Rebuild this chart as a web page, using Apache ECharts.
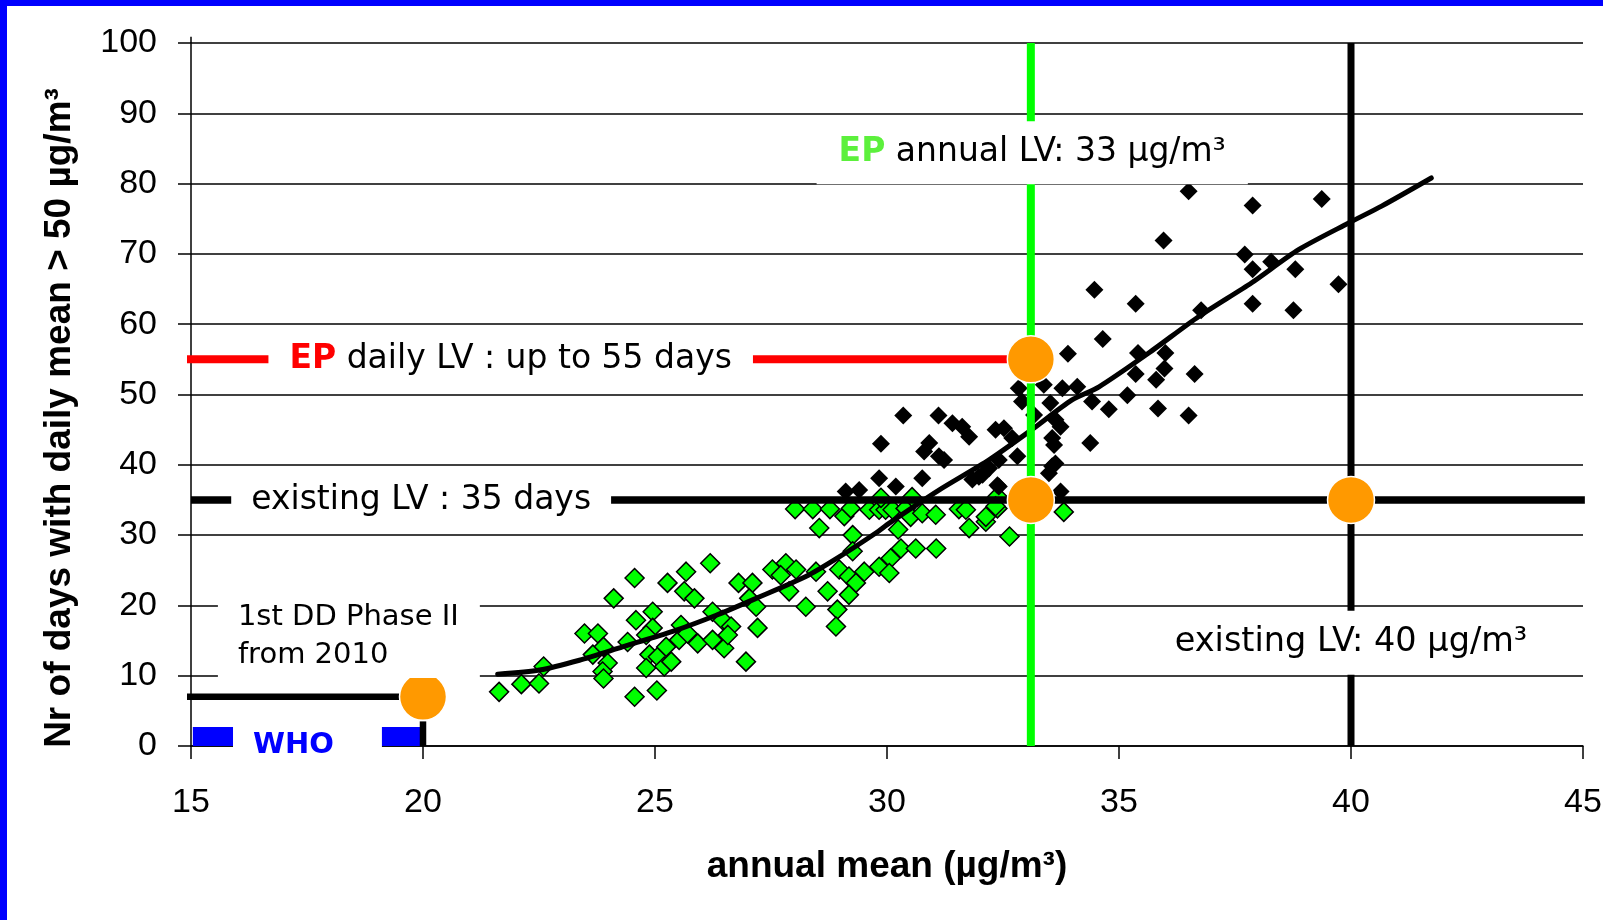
<!DOCTYPE html>
<html>
<head>
<meta charset="utf-8">
<script src="https://cdn.jsdelivr.net/npm/echarts@6/dist/echarts.min.js"></script>
<style>
  html, body { margin: 0; padding: 0; background: #fff; }
  #chart { width: 1603px; height: 920px; }
</style>
</head>
<body>
<div id="chart"></div>
<script>
// ---------- data ----------
const xMin = 15, xMax = 45, xStep = 5;
const yMin = 0, yMax = 100, yStep = 10;

const greenX = [21.64,22.12,22.50,22.60,23.48,23.77,23.89,23.66,23.98,23.87,23.89,24.11,24.56,24.41,24.59,24.95,24.95,24.81,24.56,25.04,
  24.88,24.81,25.06,25.20,25.35,25.24,25.27,25.67,25.63,25.85,26.19,25.56,25.52,25.70,25.92,26.24,26.24,26.46,26.49,26.64,
  26.57,26.80,26.96,27.10,27.03,27.18,27.21,27.53,27.82,28.04,28.47,27.89,28.25,28.72,28.97,29.18,29.33,29.18,28.93,28.90,
  29.51,29.83,28.54,29.26,29.26,28.02,28.40,28.77,29.08,29.22,29.62,29.83,29.97,30.12,30.40,30.51,30.76,31.05,29.87,30.54,
  31.55,31.70,32.38,32.38,31.77,32.13,32.64,30.24,30.30,30.62,31.06,30.08,30.05,27.71,32.34,32.13,33.81];
const greenY = [7.7,8.8,8.9,11.3,16.0,16.0,14.1,13.0,11.8,10.6,9.6,21.0,23.9,14.8,17.9,19.1,16.8,15.8,7.0,7.9,
  13.0,11.1,12.7,11.3,12.0,14.1,23.2,24.8,22.0,21.0,26.0,17.2,15.1,16.0,14.6,19.1,15.1,17.9,13.9,17.0,
  15.8,23.2,12.0,23.2,21.0,19.8,16.8,25.1,26.0,25.1,24.8,22.0,19.8,22.0,25.1,24.1,23.2,21.5,19.4,17.0,
  24.8,25.5,31.0,30.0,27.7,33.7,33.7,33.7,32.7,33.8,33.6,33.6,33.6,33.6,33.8,32.6,33.1,32.9,35.3,35.4,
  33.7,33.6,35.5,33.8,31.0,31.9,29.8,30.8,28.1,28.1,28.1,26.7,24.6,24.3,34.1,32.6,33.3];

const blackX = [36.50,37.88,39.37,35.96,37.71,38.28,37.88,38.80,39.73,34.47,35.36,37.88,38.76,36.77,34.65,33.90,35.41,36.00,35.98,35.36,
  35.80,36.63,35.18,34.78,35.84,36.50,34.38,32.84,33.38,33.78,34.10,34.42,32.91,33.52,33.17,33.63,33.74,32.52,32.70,33.56,
  33.60,32.81,32.41,32.20,33.63,33.49,31.98,32.41,33.74,30.35,31.11,31.41,31.62,31.77,29.87,30.91,30.80,31.12,31.23,30.76,
  30.19,29.83,29.11,29.40,32.34,32.38,32.06,31.84,33.56];
const blackY = [78.9,76.9,77.8,71.9,69.9,68.9,67.8,67.8,65.7,64.9,62.9,62.9,62.0,62.0,57.9,55.8,55.9,55.9,53.7,52.9,
  52.1,52.9,49.9,47.9,48.0,47.0,43.1,50.9,51.4,50.9,51.1,49.0,49.0,48.8,47.1,46.4,45.4,45.2,43.8,43.8,
  42.8,41.2,40.7,39.5,40.2,38.8,38.3,36.9,36.2,47.0,47.0,45.9,45.4,44.0,43.0,43.1,41.9,41.2,40.7,38.1,
  36.9,38.1,36.2,36.4,45.0,37.1,38.6,37.9,39.8];

const trendX = [21.61,22.51,23.37,24.30,25.38,26.32,27.18,28.25,28.97,29.76,30.05,31.12,32.20,33.12,33.98,34.57,35.64,36.72,37.86,38.87,39.95,40.66,41.73];
const trendY = [10.2,10.8,12.2,14.1,16.3,18.6,21.0,24.1,26.9,30.3,31.7,36.4,40.7,45.0,49.2,51.1,55.9,61.1,65.9,70.6,74.4,76.8,80.8];

// limit values
const epAnnualLV = 33.1, existingAnnualLV = 40, whoAnnual = 20;
const epDailyDays = 55, existingDailyDays = 35, phase2Days = 7, whoDays = 1.35;
const markerX = [20, 33.1, 33.1, 40];
const markerY = [7, 55, 35, 35];

const texts = {
  epDaily: '{ep|EP} daily LV : up to 55 days',
  existingDays: 'existing LV : 35 days',
  epAnnual: '{ep|EP} annual LV: 33 µg/m³',
  existingAnnual: 'existing LV: 40 µg/m³',
  phase2: '1st DD Phase II\nfrom 2010',
  who: 'WHO',
  xTitle: 'annual mean (µg/m³)',
  yTitle: 'Nr of days with daily mean > 50 µg/m³'
};

// ---------- build ----------
const zip = (xs, ys) => xs.map((x, i) => [x, ys[i]]);
const ANN_FONT = '"DejaVu Sans", Verdana, sans-serif';
const AX_FONT = '"Liberation Sans", Arial, sans-serif';

function seg(points, color, width, z) {
  return {
    type: 'line', data: points, symbol: 'none', clip: false, silent: true, z: z || 3,
    lineStyle: { color: color, width: width, cap: 'butt', opacity: 1 }, animation: false
  };
}

function ann(x, y, text, extra) {
  return {
    value: [x, y],
    label: Object.assign({
      show: true, position: 'inside', formatter: text,
      color: '#000', fontFamily: ANN_FONT, fontSize: 33,
      backgroundColor: '#fff', opacity: 1,
      rich: {
        ep: { fontFamily: ANN_FONT, fontSize: 33, fontWeight: 'bold', color: '#FF0000' }
      }
    }, extra || {})
  };
}

const chart = echarts.init(document.getElementById('chart'), null, { renderer: 'canvas' });

const option = {
  animation: false,
  backgroundColor: '#fff',
  grid: { left: 191, top: 43, width: 1392, height: 703, containLabel: false, outerBoundsMode: 'none' },
  xAxis: {
    type: 'value', min: xMin, max: xMax, interval: xStep,
    axisLine: { show: true, onZero: false, lineStyle: { color: '#000', width: 1.5 } },
    axisTick: { show: true, length: 13, inside: false, lineStyle: { color: '#000', width: 1.5 } },
    axisLabel: { show: true, margin: 40, color: '#000', fontSize: 34, fontFamily: AX_FONT },
    splitLine: { show: false },
    name: texts.xTitle, nameLocation: 'middle', nameGap: 102,
    nameTextStyle: { color: '#000', fontSize: 37, fontWeight: 'bold', fontFamily: AX_FONT }
  },
  yAxis: {
    type: 'value', min: yMin, max: yMax, interval: yStep,
    axisLine: { show: true, lineStyle: { color: '#000', width: 1.5 } },
    axisTick: { show: true, length: 13, inside: false, lineStyle: { color: '#000', width: 1.5 } },
    axisLabel: { show: true, margin: 34, color: '#000', fontSize: 34, fontFamily: AX_FONT },
    splitLine: { show: true, lineStyle: { color: '#000', width: 1.5 } }
  },
  graphic: [
    { type: 'rect', shape: { x: 0, y: 0, width: 1603, height: 6 }, style: { fill: '#0000FF' }, z: 100 },
    { type: 'rect', shape: { x: 0, y: 0, width: 7, height: 920 }, style: { fill: '#0000FF' }, z: 100 },
    { type: 'text', x: 60, y: 418, rotation: Math.PI / 2, z: 100,
      style: { text: texts.yTitle, align: 'center', verticalAlign: 'middle', fill: '#000',
               fontSize: 37, fontWeight: 'bold', fontFamily: AX_FONT } }
  ],
  series: [
    // y-axis line extends a little above the top gridline
    seg([[xMin, yMax], [xMin, 100.9]], '#000', 1.5, 3),
    // green scatter
    { type: 'scatter', data: zip(greenX, greenY), symbol: 'diamond', symbolSize: 19, z: 2, silent: true,
      itemStyle: { color: '#00FF00', borderColor: '#000', borderWidth: 1.5, opacity: 1 } },
    // limit lines
    seg([[14.9, epDailyDays], [epAnnualLV, epDailyDays]], '#FF0000', 8, 3),
    seg([[xMin, existingDailyDays], [45.04, existingDailyDays]], '#000', 7.5, 3),
    seg([[14.9, phase2Days], [whoAnnual, phase2Days]], '#000', 6.5, 3),
    seg([[15.04, whoDays], [19.97, whoDays]], '#0000FF', 19, 3),
    seg([[whoAnnual, 0], [whoAnnual, 3.5]], '#000', 6.5, 3),
    seg([[existingAnnualLV, yMin], [existingAnnualLV, yMax]], '#000', 7, 3),
    // black scatter
    { type: 'scatter', data: zip(blackX, blackY), symbol: 'diamond', symbolSize: 18, z: 4, silent: true,
      itemStyle: { color: '#000', opacity: 1 } },
    // trend line
    { type: 'line', data: zip(trendX, trendY), symbol: 'none', smooth: 0.25, z: 5, silent: true,
      lineStyle: { color: '#000', width: 5, cap: 'round', join: 'round', opacity: 1 } },
    seg([[epAnnualLV, yMin], [epAnnualLV, yMax]], '#00FF00', 8, 6),
    // markers
    { type: 'scatter', data: zip(markerX, markerY), symbol: 'circle', symbolSize: 47, z: 7, silent: true,
      itemStyle: { color: '#FF9900', borderColor: '#fff', borderWidth: 1.5, opacity: 1 } },
    // annotations
    { type: 'scatter', symbol: 'circle', symbolSize: 1, z: 10, silent: true, clip: false,
      itemStyle: { color: '#fff', opacity: 1 },
      data: [
        ann(21.89, 55.0, texts.epDaily, { padding: [2, 21, 2, 21] }),
        ann(19.96, 35.0, texts.existingDays, { padding: [2, 20, 2, 20] }),
        ann(33.13, 84.4, texts.epAnnual, { padding: [15, 22, 15, 22],
          rich: { ep: { fontFamily: ANN_FONT, fontSize: 33, fontWeight: 'bold', color: '#5CF03C' } } }),
        ann(40.0, 14.7, texts.existingAnnual, { fontSize: 33.5, padding: [15, 22, 15, 22] }),
        ann(15.58, 15.65, texts.phase2, { align: 'left', fontSize: 29, lineHeight: 38, padding: [4, 21, 4, 20] }),
        ann(17.51, 0.36, texts.who, { fontSize: 29, fontWeight: 'bold', color: '#0000FF', padding: [4, 48, 1, 20] })
      ] }
  ]
};

chart.setOption(option);
</script>
</body>
</html>
